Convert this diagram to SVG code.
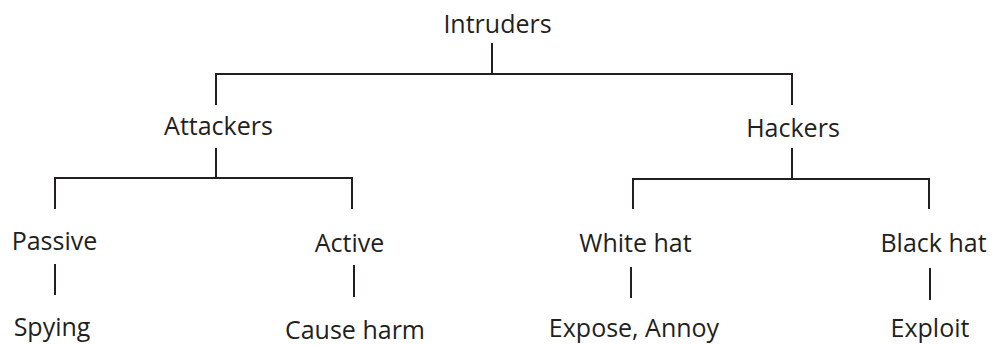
<svg xmlns="http://www.w3.org/2000/svg" width="1002" height="345" viewBox="0 0 1002 345">
  <style>
    .lbl { font-family: "Open Sans", "Liberation Sans", sans-serif; font-size: 25px; fill: #231f20; text-anchor: middle; }
    .ln { stroke: #231f20; stroke-width: 2; fill: none; }
  </style>
  <rect width="1002" height="345" fill="#ffffff"/>

  <!-- connectors -->
  <g id="connectors">
    <!-- Intruders -> Attackers / Hackers -->
    <path class="ln" d="M492 43 V74 M216 105 V74 H792 V105"/>
    <!-- Attackers -> Passive / Active -->
    <path class="ln" d="M216 148 V178 M55 209 V178 H352 V209"/>
    <!-- Hackers -> White hat / Black hat -->
    <path class="ln" d="M792 148 V179 M633 209 V179 H929 V209"/>
    <!-- leaves -->
    <path class="ln" d="M55 264 V295"/>
    <path class="ln" d="M354 265 V297"/>
    <path class="ln" d="M631 267 V298"/>
    <path class="ln" d="M930 268 V300"/>
  </g>

  <g id="intruders"><text class="lbl" x="497.5" y="33">Intruders</text></g>
  <g id="attackers"><text class="lbl" x="218.5" y="135">Attackers</text></g>
  <g id="hackers"><text class="lbl" x="793" y="137">Hackers</text></g>
  <g id="passive"><text class="lbl" x="54.5" y="250">Passive</text></g>
  <g id="active"><text class="lbl" x="349.5" y="252">Active</text></g>
  <g id="white-hat"><text class="lbl" x="635.5" y="252">White hat</text></g>
  <g id="black-hat"><text class="lbl" x="933.5" y="252">Black hat</text></g>
  <g id="spying"><text class="lbl" x="52" y="336">Spying</text></g>
  <g id="cause-harm"><text class="lbl" x="355" y="339">Cause harm</text></g>
  <g id="expose-annoy"><text class="lbl" x="634" y="337">Expose, Annoy</text></g>
  <g id="exploit"><text class="lbl" x="930" y="337">Exploit</text></g>
</svg>
